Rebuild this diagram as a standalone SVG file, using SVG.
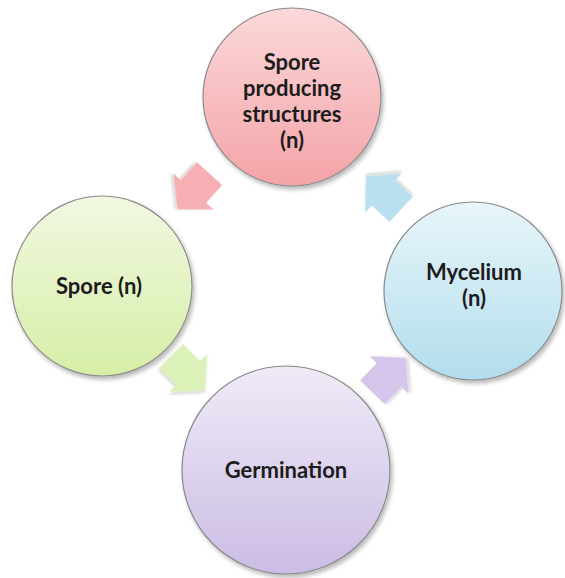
<svg xmlns="http://www.w3.org/2000/svg" width="565" height="578" viewBox="0 0 565 578">
  <defs>
    <style>
      .node circle { stroke: #8a8a8a; stroke-width: 1.2; filter: url(#shadow); }
      .label { font-family: Lato, "Liberation Sans", sans-serif; font-weight: 700; font-size: 22px; fill: #1c1c1c; text-anchor: middle; }
      .arrow { filter: url(#softShadow); }
    </style>
    <filter id="shadow" x="-10%" y="-10%" width="125%" height="125%">
      <feDropShadow dx="2" dy="3" stdDeviation="2" flood-color="#000" flood-opacity="0.28"/>
    </filter>
    <filter id="softShadow" x="-20%" y="-20%" width="150%" height="150%">
      <feDropShadow dx="1.5" dy="2" stdDeviation="1.5" flood-color="#000" flood-opacity="0.18"/>
    </filter>
    <linearGradient id="gPink" x1="0" y1="0" x2="0" y2="1">
      <stop offset="0" stop-color="#fbd9da"/>
      <stop offset="1" stop-color="#f4a3a7"/>
    </linearGradient>
    <linearGradient id="gGreen" x1="0" y1="0" x2="0" y2="1">
      <stop offset="0" stop-color="#f1f8e2"/>
      <stop offset="1" stop-color="#d6eea6"/>
    </linearGradient>
    <linearGradient id="gBlue" x1="0" y1="0" x2="0" y2="1">
      <stop offset="0" stop-color="#e8f6fa"/>
      <stop offset="1" stop-color="#b2ddec"/>
    </linearGradient>
    <linearGradient id="gPurple" x1="0" y1="0" x2="0" y2="1">
      <stop offset="0" stop-color="#f0eaf7"/>
      <stop offset="1" stop-color="#cbbce4"/>
    </linearGradient>
    <!-- block arrow pointing along +x, centred on the base of its head -->
    <path id="blockArrow" d="M-24,-17 L0,-17 L0,-27 L24,0 L0,27 L0,17 L-24,17 Z"/>
  </defs>

  <rect width="565" height="578" fill="#ffffff"/>

  <g id="connectors">
    <use href="#blockArrow" class="arrow" fill="#f6b0b4" transform="translate(193.5,191.5) rotate(132)"/>
    <use href="#blockArrow" class="arrow" fill="#b9e0f0" transform="translate(383.5,193) rotate(-137)"/>
    <use href="#blockArrow" class="arrow" fill="#dcf1b8" transform="translate(188,373) rotate(45)"/>
    <use href="#blockArrow" class="arrow" fill="#d3c6ea" transform="translate(389,375) rotate(-46)"/>
  </g>

  <g id="spore-producing" class="node">
    <circle cx="292" cy="97" r="89" fill="url(#gPink)"/>
    <text class="label" x="292" y="70">Spore</text>
    <text class="label" x="292" y="96">producing</text>
    <text class="label" x="292" y="122">structures</text>
    <text class="label" x="292" y="148">(n)</text>
  </g>

  <g id="spore" class="node">
    <circle cx="102" cy="286" r="90" fill="url(#gGreen)"/>
    <text class="label" x="99" y="294">Spore (n)</text>
  </g>

  <g id="mycelium" class="node">
    <circle cx="473" cy="291" r="89" fill="url(#gBlue)"/>
    <text class="label" x="474" y="280">Mycelium</text>
    <text class="label" x="474" y="306">(n)</text>
  </g>

  <g id="germination" class="node">
    <circle cx="286" cy="470" r="104" fill="url(#gPurple)"/>
    <text class="label" x="286" y="478">Germination</text>
  </g>
</svg>
